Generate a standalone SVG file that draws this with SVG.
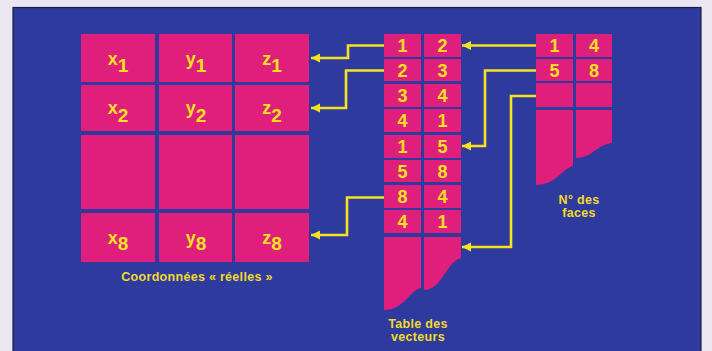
<svg xmlns="http://www.w3.org/2000/svg" width="712" height="351" viewBox="0 0 712 351">
<defs>
<style>
.cell{fill:#e01f7c;}
.num{font-family:"Liberation Sans",Arial,sans-serif;font-weight:bold;font-size:18px;fill:#f6e21e;text-anchor:middle;}
.var{font-family:"Liberation Sans",Arial,sans-serif;font-weight:bold;font-size:18px;fill:#f6e21e;text-anchor:middle;}
.lab{font-family:"Liberation Sans",Arial,sans-serif;font-weight:bold;font-size:12.5px;letter-spacing:0.3px;fill:#f0dc2a;text-anchor:middle;}
.con{fill:none;stroke:#f6e21e;stroke-width:2.6;stroke-linejoin:miter;}
</style>
<marker id="ah" markerUnits="userSpaceOnUse" markerWidth="12" markerHeight="12" refX="11" refY="6" orient="auto" viewBox="0 0 12 12">
<path d="M11,6 L2,1.5 L2,10.5 Z" fill="#f6e21e"/>
</marker>
</defs>
<rect x="0" y="0" width="712" height="351" fill="#ece6f0"/>
<rect x="13" y="7.5" width="688" height="350" fill="#2e3a9e" stroke="#1a1f40" stroke-width="1.2"/>

<g id="coords">
<rect class="cell" x="81" y="34" width="74" height="48"/>
<rect class="cell" x="159" y="34" width="73" height="48"/>
<rect class="cell" x="235" y="34" width="74" height="48"/>
<rect class="cell" x="81" y="85" width="74" height="46"/>
<rect class="cell" x="159" y="85" width="73" height="46"/>
<rect class="cell" x="235" y="85" width="74" height="46"/>
<rect class="cell" x="81" y="135" width="74" height="74"/>
<rect class="cell" x="159" y="135" width="73" height="74"/>
<rect class="cell" x="235" y="135" width="74" height="74"/>
<rect class="cell" x="81" y="213" width="74" height="49"/>
<rect class="cell" x="159" y="213" width="73" height="49"/>
<rect class="cell" x="235" y="213" width="74" height="49"/>
<text class="var" x="118" y="65">x<tspan font-size="19" dy="7">1</tspan></text>
<text class="var" x="196" y="65">y<tspan font-size="19" dy="7">1</tspan></text>
<text class="var" x="272" y="65">z<tspan font-size="19" dy="7">1</tspan></text>
<text class="var" x="118" y="114">x<tspan font-size="19" dy="8">2</tspan></text>
<text class="var" x="196" y="114">y<tspan font-size="19" dy="8">2</tspan></text>
<text class="var" x="272" y="114">z<tspan font-size="19" dy="8">2</tspan></text>
<text class="var" x="118" y="244">x<tspan font-size="19" dy="6">8</tspan></text>
<text class="var" x="196" y="244">y<tspan font-size="19" dy="6">8</tspan></text>
<text class="var" x="272" y="244">z<tspan font-size="19" dy="6">8</tspan></text>
<text class="lab" x="197" y="281">Coordonnées « réelles »</text>
</g>

<g id="vecteurs">
<rect class="cell" x="384" y="34" width="37" height="23"/>
<rect class="cell" x="424" y="34" width="37" height="23"/>
<rect class="cell" x="384" y="59" width="37" height="22"/>
<rect class="cell" x="424" y="59" width="37" height="22"/>
<rect class="cell" x="384" y="84" width="37" height="23"/>
<rect class="cell" x="424" y="84" width="37" height="23"/>
<rect class="cell" x="384" y="109" width="37" height="23"/>
<rect class="cell" x="424" y="109" width="37" height="23"/>
<rect class="cell" x="384" y="135" width="37" height="23"/>
<rect class="cell" x="424" y="135" width="37" height="23"/>
<rect class="cell" x="384" y="160" width="37" height="22"/>
<rect class="cell" x="424" y="160" width="37" height="22"/>
<rect class="cell" x="384" y="185" width="37" height="23"/>
<rect class="cell" x="424" y="185" width="37" height="23"/>
<rect class="cell" x="384" y="210" width="37" height="23"/>
<rect class="cell" x="424" y="210" width="37" height="23"/>
<path class="cell" d="M384,237 H421 V288 C410,290 404,310 384,310 Z"/>
<path class="cell" d="M424,237 H461 V258 C446,262 442,290 424,290 Z"/>
<text class="num" x="402.5" y="52">1</text><text class="num" x="442.5" y="52">2</text>
<text class="num" x="402.5" y="76.5">2</text><text class="num" x="442.5" y="76.5">3</text>
<text class="num" x="402.5" y="102">3</text><text class="num" x="442.5" y="102">4</text>
<text class="num" x="402.5" y="127">4</text><text class="num" x="442.5" y="127">1</text>
<text class="num" x="402.5" y="153">1</text><text class="num" x="442.5" y="153">5</text>
<text class="num" x="402.5" y="177.5">5</text><text class="num" x="442.5" y="177.5">8</text>
<text class="num" x="402.5" y="203">8</text><text class="num" x="442.5" y="203">4</text>
<text class="num" x="402.5" y="228">4</text><text class="num" x="442.5" y="228">1</text>
<text class="lab" x="418" y="328">Table des</text>
<text class="lab" x="418" y="341">vecteurs</text>
</g>

<g id="faces">
<rect class="cell" x="536" y="34" width="37" height="23"/>
<rect class="cell" x="576" y="34" width="36" height="23"/>
<rect class="cell" x="536" y="59" width="37" height="22"/>
<rect class="cell" x="576" y="59" width="36" height="22"/>
<rect class="cell" x="536" y="83" width="37" height="24"/>
<rect class="cell" x="576" y="83" width="36" height="24"/>
<path class="cell" d="M536,110 H573 V166 C560,170 556,185 536,185 Z"/>
<path class="cell" d="M576,110 H612 V143 C596,145 592,158 576,158 Z"/>
<text class="num" x="554.5" y="52">1</text><text class="num" x="594" y="52">4</text>
<text class="num" x="554.5" y="76.5">5</text><text class="num" x="594" y="76.5">8</text>
<text class="lab" x="579" y="204">N° des</text>
<text class="lab" x="579" y="217">faces</text>
</g>

<g id="connectors">
<path class="con" d="M384,45.5 H348 V58 H311" marker-end="url(#ah)"/>
<path class="con" d="M384,70.5 H346 V108 H311" marker-end="url(#ah)"/>
<path class="con" d="M384,197.5 H347 V235 H311" marker-end="url(#ah)"/>
<path class="con" d="M536,45.5 H462" marker-end="url(#ah)"/>
<path class="con" d="M536,70.5 H485 V146 H462" marker-end="url(#ah)"/>
<path class="con" d="M536,96 H511 V247 H462" marker-end="url(#ah)"/>
</g>
</svg>
